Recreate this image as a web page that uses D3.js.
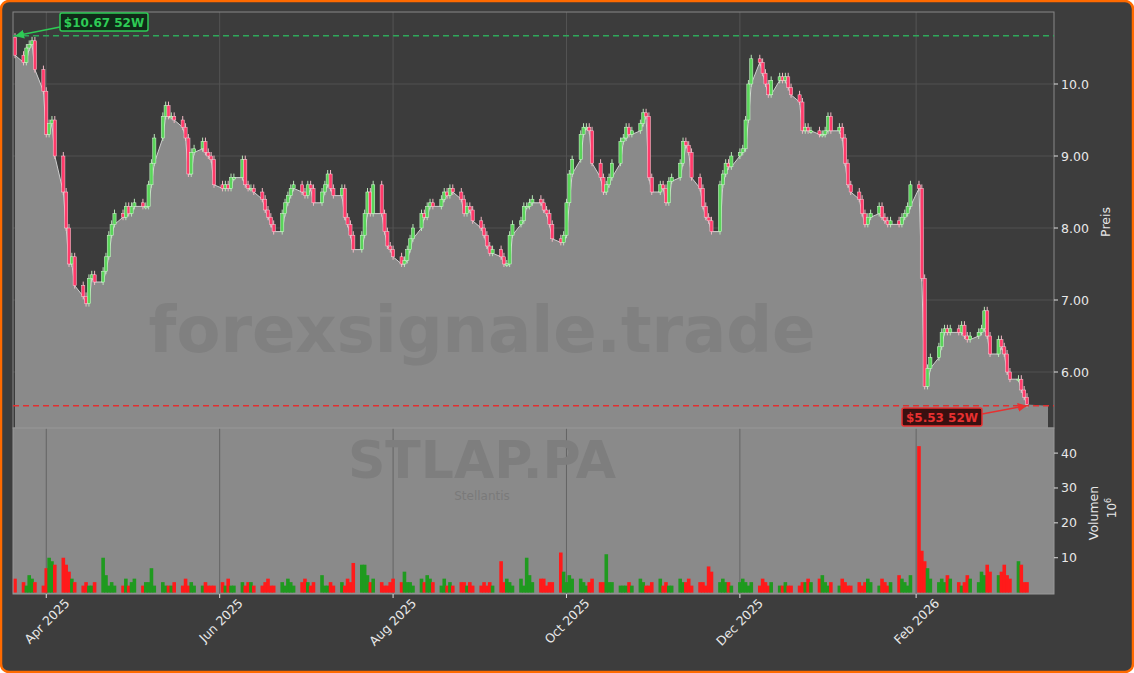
<!DOCTYPE html>
<html><head><meta charset="utf-8">
<script src="https://cdn.jsdelivr.net/npm/d3@7/dist/d3.min.js"></script>
<style>body{margin:0;background:#fff}svg{display:block}</style></head>
<body><svg id="c" width="1134" height="673"></svg>
<script>
const closes=[10.4,10.3,10.5,10.55,10.6,10.2,9.9,9.3,9.45,9.5,9.0,8.5,8.0,7.5,7.6,7.2,7.05,6.95,7.3,7.35,7.25,7.4,7.6,7.9,8.05,8.2,8.15,8.3,8.2,8.3,8.35,8.3,8.3,8.6,8.9,9.25,9.55,9.7,9.55,9.55,9.5,9.4,9.25,8.75,9.05,9.1,9.2,9.05,9.0,8.95,8.6,8.55,8.6,8.55,8.7,8.7,8.95,8.6,8.55,8.55,8.5,8.4,8.25,8.15,8.05,7.95,8.2,8.35,8.45,8.55,8.6,8.5,8.45,8.6,8.55,8.35,8.5,8.6,8.75,8.55,8.45,8.55,8.15,8.05,7.9,7.7,7.9,8.2,8.5,8.2,8.6,8.2,7.95,7.75,7.7,7.6,7.5,7.55,7.7,7.85,8.0,8.2,8.15,8.3,8.35,8.3,8.4,8.5,8.45,8.55,8.5,8.4,8.2,8.3,8.25,8.1,8.0,7.9,7.75,7.65,7.7,7.6,7.5,7.5,7.9,8.05,8.1,8.3,8.3,8.35,8.4,8.35,8.25,8.2,8.05,7.85,7.8,7.9,8.35,8.75,8.95,9.3,9.4,9.4,9.35,8.9,8.7,8.5,8.6,8.7,8.9,9.2,9.25,9.4,9.3,9.35,9.45,9.6,9.55,8.7,8.5,8.6,8.55,8.35,8.65,8.7,8.9,9.2,9.15,9.05,8.7,8.55,8.3,8.15,8.1,7.95,8.6,8.75,8.9,8.85,9.0,9.05,9.1,9.5,10.0,10.35,10.3,10.15,10.0,9.85,10.05,10.1,10.05,10.1,9.95,9.85,9.75,9.35,9.4,9.35,9.35,9.3,9.3,9.35,9.55,9.35,9.4,9.25,8.9,8.6,8.5,8.4,8.2,8.05,8.15,8.2,8.3,8.15,8.1,8.05,8.1,8.05,8.15,8.2,8.3,8.6,8.55,7.3,5.8,6.05,6.2,6.35,6.55,6.6,6.55,6.6,6.55,6.65,6.5,6.45,6.5,6.55,6.6,6.85,6.5,6.25,6.45,6.35,6.25,6.0,5.9,5.9,5.75,5.65,5.55];
const volumes=[4,3,2,5,4,3,2,7,10,9,8,10,8,6,4,3,2,3,2,2,3,10,5,2,3,2,2,4,2,3,4,2,3,3,7,2,3,2,2,2,3,2,4,2,3,2,2,3,2,2,2,3,2,4,2,2,3,2,3,3,2,2,3,4,2,2,3,2,4,3,2,3,4,3,2,3,5,2,2,3,2,3,2,4,3,8.5,8,8,5,3,4,3,2,2,3,4,3,6,3,3,2,4,3,5,4,3,2,4,2,3,2,3,3,2,3,2,2,3,2,3,2,9,3,4,3,2,4,2,10,5,3,4,4,2,3,3,11.5,6,3,5,4,4,3,2,3,4,3,3,11,3,3,2,2,2,3,2,4,3,2,2,3,4,2,3,2,2,4,3,3,4,2,3,3,2,7.5,6,3,4,3,3,2,3,4,3,2,3,2,4,3,2,3,2,2,3,2,2,2,3,3,4,3,4,5,3,2,3,2,4,3,2,2,3,2,3,4,3,2,4,3,2,3,5,4,3,2,5,42,12,9,7,4,3,4,3,5,4,3,2,3,5,4,3,6,5,8,6,5,6,8,5,4,9,8];
const priceTicks=[10,9,8,7,6], volTicks=[10,20,30,40];
const monthTicks=["2025-04-01","2025-06-01","2025-08-01","2025-10-01","2025-12-01","2026-02-01"];
const hi52=10.67, lo52=5.53;
const start=new Date(2025,2,21);
const dates=[];{let d=new Date(start);while(dates.length<closes.length){const w=d.getDay();if(w>0&&w<6)dates.push(new Date(d));d.setDate(d.getDate()+1);}}
const data=closes.map((c,i)=>({d:dates[i],o:i?closes[i-1]:10.65,c,v:volumes[i]??3}));
const svg=d3.select("#c");
svg.append("rect").attr("x",1).attr("y",1).attr("width",1132).attr("height",671).attr("rx",8).attr("fill","#3d3d3d").attr("stroke","#ff6a00").attr("stroke-width",2.5);
const L=13,R=1054,T=12,M=428,B=594;
const x=d3.scaleTime().domain([start,dates[dates.length-1]]).range([15,1027]);
const y=d3.scaleLinear().domain([6-(428-372)/72,10+(84-12)/72]).range([M,T]);
const yv=d3.scaleLinear().domain([-0.4,47.2]).range([B,M]);
svg.append("rect").attr("x",L).attr("y",T).attr("width",R-L).attr("height",M-T).attr("fill","#3c3c3c");
svg.append("rect").attr("x",L).attr("y",M).attr("width",R-L).attr("height",B-M).attr("fill","#8a8a8a");
const xt=monthTicks.map(s=>{const [a,b,c]=s.split("-").map(Number);return new Date(a,b-1,c);});
const g=svg.append("g");
xt.forEach(t=>g.append("line").attr("x1",x(t)).attr("x2",x(t)).attr("y1",T).attr("y2",B).attr("stroke","#5a5a5a").attr("stroke-width",0.8));
priceTicks.forEach(p=>g.append("line").attr("x1",L).attr("x2",R).attr("y1",y(p)).attr("y2",y(p)).attr("stroke","#555").attr("stroke-width",0.8));
const ext=[...data,{d:null,c:lo52}];
const xa=d=>d.d?x(d.d):1048;
const area=d3.area().x(xa).y0(M).y1(d=>y(Math.min(d.o??d.c,d.c)));
svg.append("path").datum(ext).attr("d",area).attr("fill","#8a8a8a");
svg.append("path").datum(data).attr("d",d3.line().x(d=>x(d.d)).y(d=>y(Math.min(d.o,d.c)))).attr("fill","none").attr("stroke","#cfcfcf").attr("stroke-width",1);
svg.append("text").attr("x",482).attr("y",352).attr("text-anchor","middle").attr("font-family","DejaVu Sans").attr("font-weight","bold").attr("font-size",64).attr("fill","#6e6e6e").attr("opacity",0.35).text("forexsignale.trade");
svg.append("text").attr("x",482).attr("y",478).attr("text-anchor","middle").attr("font-family","DejaVu Sans").attr("font-weight","bold").attr("font-size",52).attr("fill","#7e7e7e").text("STLAP.PA");
svg.append("text").attr("x",482).attr("y",500).attr("text-anchor","middle").attr("font-family","DejaVu Sans").attr("font-size",12).attr("fill","#7a7a7a").text("Stellantis");
const cg=svg.append("g");
data.forEach(d=>{const up=d.c>=d.o,X=x(d.d);
 const top=y(Math.max(d.o,d.c)),bot=y(Math.min(d.o,d.c));
 cg.append("line").attr("x1",X).attr("x2",X).attr("y1",top-4).attr("y2",bot+3).attr("stroke",up?"#b8e6b8":"#f0b8c4").attr("stroke-width",1);
 cg.append("rect").attr("x",X-1.6).attr("y",top).attr("width",3.2).attr("height",Math.max(1.5,bot-top)).attr("fill",up?"#5ad45a":"#ff3a6a").attr("stroke",up?"#d8ffd8":"#ffd0da").attr("stroke-width",0.5);
});
data.forEach(d=>{const up=d.c>=d.o;svg.append("rect").attr("x",x(d.d)-1.8).attr("y",yv(d.v)).attr("width",3.6).attr("height",yv(0)-yv(d.v)).attr("fill",up?"#1f9a1f":"#ff1a1a");});
svg.append("rect").attr("x",L).attr("y",T).attr("width",R-L).attr("height",M-T).attr("fill","none").attr("stroke","#888");
svg.append("rect").attr("x",L).attr("y",M).attr("width",R-L).attr("height",B-M).attr("fill","none").attr("stroke","#999");
svg.append("line").attr("x1",L).attr("x2",R).attr("y1",y(hi52)).attr("y2",y(hi52)).attr("stroke","#2ea85a").attr("stroke-width",1.5).attr("stroke-dasharray","6,4");
svg.append("line").attr("x1",L).attr("x2",R).attr("y1",y(lo52)).attr("y2",y(lo52)).attr("stroke","#e03030").attr("stroke-width",1.5).attr("stroke-dasharray","6,4");
const defs=svg.append("defs");
[["ag","#2ecc55"],["ar","#e83030"]].forEach(([id,c])=>defs.append("marker").attr("id",id).attr("viewBox","0 0 10 10").attr("refX",9).attr("refY",5).attr("markerWidth",6).attr("markerHeight",6).attr("orient","auto").append("path").attr("d","M0,0L10,5L0,10z").attr("fill",c));
svg.append("line").attr("x1",60).attr("y1",27).attr("x2",16).attr("y2",y(hi52)).attr("stroke","#2ecc55").attr("stroke-width",1.5).attr("marker-end","url(#ag)");
svg.append("line").attr("x1",982).attr("y1",414).attr("x2",1026).attr("y2",y(lo52)).attr("stroke","#e83030").attr("stroke-width",1.5).attr("marker-end","url(#ar)");
function box(x0,y0,w,t,c,bg){svg.append("rect").attr("x",x0).attr("y",y0).attr("width",w).attr("height",18).attr("rx",2).attr("fill",bg).attr("stroke",c).attr("stroke-width",1.5);
 svg.append("text").attr("x",x0+w/2).attr("y",y0+13.5).attr("text-anchor","middle").attr("font-family","DejaVu Sans").attr("font-weight","bold").attr("font-size",12).attr("fill",c).text(t);}
box(60,13,88,"$10.67 52W","#2ecc55","#102a18");
box(902,408,80,"$5.53 52W","#e83030","#3a1010");
const fmt=d3.format(".3r");
priceTicks.forEach(p=>{svg.append("line").attr("x1",R).attr("x2",R+4).attr("y1",y(p)).attr("y2",y(p)).attr("stroke","#ddd");
 svg.append("text").attr("x",1061).attr("y",y(p)+4.5).attr("font-family","DejaVu Sans").attr("font-size",12.5).attr("fill","#e8e8e8").text(fmt(p));});
volTicks.forEach(v=>{svg.append("line").attr("x1",R).attr("x2",R+4).attr("y1",yv(v)).attr("y2",yv(v)).attr("stroke","#ddd");
 svg.append("text").attr("x",1061).attr("y",yv(v)+4.5).attr("font-family","DejaVu Sans").attr("font-size",12.5).attr("fill","#e8e8e8").text(v);});
svg.append("text").attr("transform","translate(1110,222) rotate(-90)").attr("text-anchor","middle").attr("font-family","DejaVu Sans").attr("font-size",12.5).attr("fill","#e8e8e8").text("Preis");
svg.append("text").attr("transform","translate(1098,513) rotate(-90)").attr("text-anchor","middle").attr("font-family","DejaVu Sans").attr("font-size",12.5).attr("fill","#e8e8e8").text("Volumen");
const tt=svg.append("text").attr("transform","translate(1116,508) rotate(-90)").attr("text-anchor","middle").attr("font-family","DejaVu Sans").attr("font-size",12).attr("fill","#e8e8e8");
tt.append("tspan").text("10");tt.append("tspan").attr("dy",-5).attr("font-size",8).text("6");
const mf=d3.timeFormat("%b %Y");
xt.forEach(t=>{svg.append("line").attr("x1",x(t)).attr("x2",x(t)).attr("y1",B).attr("y2",B+4).attr("stroke","#ddd");
 svg.append("text").attr("transform",`translate(${x(t)+24},${B+10}) rotate(-45)`).attr("text-anchor","end").attr("font-family","DejaVu Sans").attr("font-size",12.5).attr("fill","#e8e8e8").text(mf(t));});
</script></body></html>
